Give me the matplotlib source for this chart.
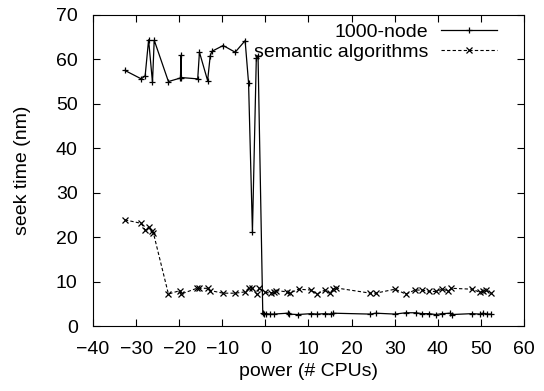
import matplotlib
matplotlib.use("Agg")
import matplotlib.pyplot as plt

plt.rcParams["font.family"] = ["Liberation Sans", "DejaVu Sans"]

node_x = [-32.6, -28.8, -27.9, -27.1, -26.2, -25.8, -22.5, -19.7, -19.6, -19.5,
          -15.7, -15.3, -13.4, -12.8, -12.4, -9.8, -7.0, -4.7, -3.9, -3.0,
          -2.1, -1.7, -0.6, -0.4, 0.15, 1.0, 1.9, 5.2, 5.4, 7.5, 10.7, 12.0,
          13.8, 15.3, 15.7, 24.4, 25.6, 30.1, 32.6, 34.9, 36.4, 38.0, 39.5,
          41.1, 42.9, 43.3, 48.0, 49.8, 50.4, 51.4, 52.3]
node_y = [57.5, 55.6, 56.3, 64.4, 54.8, 64.3, 55.0, 55.8, 60.9, 55.9,
          55.6, 61.6, 55.2, 60.8, 61.8, 63.1, 61.6, 64.2, 54.7, 21.2,
          60.3, 60.8, 2.9, 2.8, 2.8, 2.7, 2.7, 2.9, 2.7, 2.6, 2.8, 2.7,
          2.8, 2.7, 2.9, 2.7, 2.9, 2.7, 3.0, 3.0, 2.8, 2.8, 2.6,
          2.8, 2.9, 2.6, 2.8, 2.7, 2.9, 2.7, 2.7]

sem_x = [-32.6, -28.8, -27.9, -27.1, -26.4, -26.0, -22.5, -19.8, -19.6, -15.9,
         -15.3, -13.4, -12.8, -9.8, -7.0, -4.7, -3.9, -3.0, -2.0, -1.4,
         0.0, 1.2, 1.9, 2.5, 5.0, 5.7, 7.7, 10.7, 12.0, 13.8, 15.1, 15.7,
         16.3, 24.4, 25.6, 30.1, 32.6, 34.7, 36.4, 38.0, 39.5, 41.1, 42.5,
         43.2, 48.0, 49.8, 50.4, 51.2, 52.3]
sem_y = [23.9, 23.1, 21.6, 22.2, 21.5, 21.0, 7.2, 8.0, 7.2, 8.5,
         8.5, 8.5, 8.0, 7.4, 7.4, 7.7, 8.5, 8.5, 7.2, 8.5,
         7.6, 7.4, 7.7, 8.0, 7.7, 7.4, 8.3, 8.1, 7.2, 8.1, 7.4, 8.3,
         8.6, 7.4, 7.4, 8.3, 7.2, 8.1, 8.1, 7.8, 7.8, 8.3, 7.9,
         8.5, 8.3, 7.6, 7.8, 8.1, 7.4]

x_ticks = [-40, -30, -20, -10, 0, 10, 20, 30, 40, 50, 60]
y_ticks = [0, 10, 20, 30, 40, 50, 60, 70]

fig = plt.figure(figsize=(5.44, 3.91), dpi=100)
ax = fig.add_axes([0.171, 0.166, 0.792, 0.796])

ax.plot(node_x, node_y, color="black", linewidth=0.9, marker="+",
        markersize=5, markeredgewidth=0.9, label="1000-node")
ax.plot(sem_x, sem_y, color="black", linewidth=0.8, linestyle=(0, (3, 2)),
        marker="x", markersize=4.5, markeredgewidth=0.9,
        label="semantic algorithms")

ax.set_xlim(-40, 60)
ax.set_ylim(0, 70)
ax.set_xticks(x_ticks)
ax.set_yticks(y_ticks)
ax.tick_params(direction="in", top=True, right=True, labelsize=14, length=5)
ax.tick_params(axis="x", pad=11)
ax.tick_params(axis="y", pad=11)
ax.set_xlabel("power (# CPUs)", fontsize=14, labelpad=3)
ax.set_ylabel("seek time (nm)", fontsize=14, labelpad=18)

ax.legend(loc="upper right", bbox_to_anchor=(0.937, 0.972), frameon=False,
          markerfirst=False, fontsize=14, handlelength=2.85,
          labelspacing=0.1, handletextpad=0.67, borderaxespad=0, borderpad=0)

fig.savefig("out.png", dpi=100)
